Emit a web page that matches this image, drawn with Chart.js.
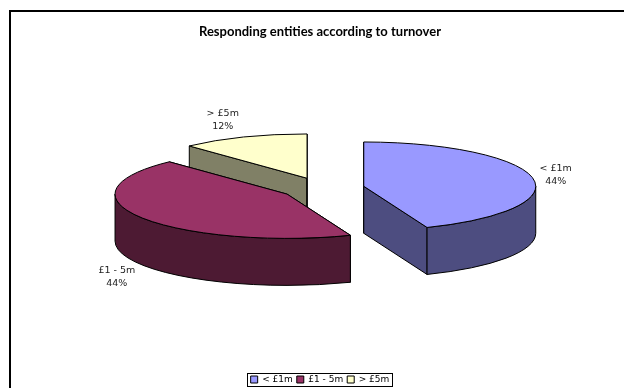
<!DOCTYPE html>
<html>
<head>
<meta charset="utf-8">
<style>
html,body{margin:0;padding:0;background:#fff;overflow:hidden}
#wrap{position:absolute;left:0;top:0;width:624px;height:388px}
</style>
<script src="https://cdn.jsdelivr.net/npm/chart.js@4"></script>
</head>
<body>
<div id="wrap"><canvas id="c" width="624" height="388"></canvas></div>
<script>
const categories = ['< £1m', '£1 - 5m', '> £5m'];
const shares = [44, 44, 12];
const topColours = ['#9999FF', '#993366', '#FFFFCC'];
const wallColours = ['#4D4D80', '#4D1A33', '#808066'];
const explodeBy = [42, 42, 42];
const labelNudges = [[23, -3], [-25, 59], [-21, -17]];
const drawOrder = [2, 1, 0];

const TILT = 0.2575, DEPTH = 47, SHIFT_X = 2.5, SHIFT_Y = -17;
const LABEL_FONT = '9.5px "DejaVu Sans"';

const pie3d = {
  id: 'pie3d',
  beforeDatasetDraw(chart, args) {
    const ctx = chart.ctx;
    const arcs = args.meta.data;
    const cy = (chart.chartArea.top + chart.chartArea.bottom) / 2 + SHIFT_Y;
    drawOrder.forEach(i => {
      const a = arcs[i], r = a.outerRadius;
      const mid = (a.startAngle + a.endAngle) / 2;
      const ox = a.x + SHIFT_X + Math.cos(mid) * explodeBy[i];
      const oy = cy + Math.sin(mid) * explodeBy[i] * TILT;
      const px = t => ox + Math.cos(t) * r;
      const py = t => oy + Math.sin(t) * r * TILT;
      ctx.save();
      ctx.lineWidth = 1;
      ctx.strokeStyle = '#000';
      ctx.lineJoin = 'round';
      ctx.fillStyle = wallColours[i];
      [a.startAngle, a.endAngle].forEach(t => {
        ctx.beginPath();
        ctx.moveTo(ox, oy);
        ctx.lineTo(px(t), py(t));
        ctx.lineTo(px(t), py(t) + DEPTH);
        ctx.lineTo(ox, oy + DEPTH);
        ctx.closePath();
        ctx.fill();
        ctx.stroke();
      });
      // curved outer wall: only the part that faces the viewer
      const norm = t => { let v = t % (2 * Math.PI); return v < -Math.PI / 2 ? v + 2 * Math.PI : v; };
      const s = Math.max(norm(a.startAngle), 0), e = Math.min(a.endAngle, Math.PI);
      if (e > s) {
        ctx.beginPath();
        ctx.ellipse(ox, oy, r, r * TILT, 0, s, e);
        ctx.lineTo(px(e), py(e) + DEPTH);
        ctx.ellipse(ox, oy + DEPTH, r, r * TILT, 0, e, s, true);
        ctx.closePath();
        ctx.fill();
        ctx.stroke();
      }
      // top face: the library's own arc, squashed
      ctx.save();
      ctx.translate(ox - a.x, oy);
      ctx.scale(1, TILT);
      ctx.translate(0, -a.y);
      a.draw(ctx);
      ctx.restore();
      ctx.beginPath();
      ctx.moveTo(ox, oy);
      ctx.ellipse(ox, oy, r, r * TILT, 0, a.startAngle, a.endAngle);
      ctx.closePath();
      ctx.stroke();
      ctx.restore();
      // data label
      ctx.save();
      ctx.fillStyle = '#222';
      ctx.font = LABEL_FONT;
      ctx.textAlign = 'center';
      ctx.textBaseline = 'middle';
      const lx = px(mid) + labelNudges[i][0], ly = py(mid) + labelNudges[i][1];
      ctx.fillText(categories[i], lx, ly - 6.5);
      ctx.fillText(shares[i] + '%', lx, ly + 6.5);
      ctx.restore();
    });
    return false;
  },
  afterDraw(chart) {
    const ctx = chart.ctx, l = chart.legend, hb = l.legendHitBoxes;
    const left = Math.round(hb[0].left) - 4;
    const last = hb[hb.length - 1];
    const right = Math.round(last.left + last.width) + 3;
    const top = Math.round(hb[0].top) - 2;
    ctx.save();
    ctx.strokeStyle = '#000';
    ctx.lineWidth = 1;
    ctx.strokeRect(left + 0.5, top + 0.5, right - left, 13);
    ctx.lineWidth = 2;
    ctx.beginPath();
    ctx.moveTo(10, 388);
    ctx.lineTo(10, 11);
    ctx.lineTo(624, 11);
    ctx.stroke();
    ctx.restore();
  }
};

new Chart(document.getElementById('c'), {
  type: 'pie',
  data: {
    labels: categories,
    datasets: [{
      data: shares,
      backgroundColor: topColours,
      borderWidth: 0
    }]
  },
  options: {
    responsive: false,
    animation: false,
    radius: 172,
    layout: { padding: { left: 16, right: 0, top: 14, bottom: -6 } },
    plugins: {
      title: {
        display: true,
        text: 'Responding entities according to turnover',
        color: '#000',
        font: { family: 'Lato', size: 13, weight: 'bold' },
        padding: { top: 10, bottom: 0 }
      },
      legend: {
        position: 'bottom',
        labels: {
          boxWidth: 7,
          boxHeight: 7,
          padding: 4,
          color: '#222',
          font: { family: 'DejaVu Sans', size: 9 },
          generateLabels(chart) {
            return categories.map((t, i) => ({
              text: t, fillStyle: topColours[i], strokeStyle: '#000', lineWidth: 1, index: i, hidden: false
            }));
          }
        }
      },
      tooltip: { enabled: false }
    }
  },
  plugins: [pie3d]
});
</script>
</body>
</html>
